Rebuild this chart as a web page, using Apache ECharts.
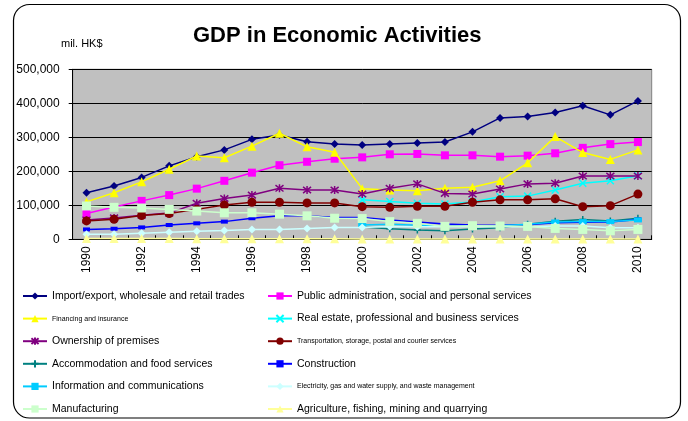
<!DOCTYPE html>
<html><head><meta charset="utf-8">
<script src="https://cdn.jsdelivr.net/npm/echarts@6/dist/echarts.min.js"></script>
<style>html,body{margin:0;padding:0;background:#fff}#c{width:688px;height:421px}</style>
</head><body><div id="c"></div>
<script>
var years = ['1990','1991','1992','1993','1994','1995','1996','1997','1998','1999','2000','2001','2002','2003','2004','2005','2006','2007','2008','2009','2010'];
var yTicks = [0, 100000, 200000, 300000, 400000, 500000];
var importExport = [137000,157000,182000,216000,243000,263000,294000,307000,287000,280000,277000,280000,283000,286000,316000,357000,361000,373000,393000,366000,407000];
var publicAdmin = [76000,95000,113000,130000,149000,172000,196000,218000,228000,237000,241000,250000,251000,247000,247000,243000,246000,253000,269000,280000,286000];
var financing = [110000,137000,169000,206000,245000,240000,274000,312000,272000,256000,149000,145000,143000,150000,153000,172000,225000,302000,255000,235000,263000];
var realEstate = [null,null,null,null,null,null,null,null,null,null,116000,111000,106000,104000,110000,125000,127000,145000,165000,172000,187000];
var ownership = [57000,63000,71000,77000,106000,120000,130000,150000,145000,145000,133000,150000,163000,135000,133000,148000,163000,165000,186000,186000,186000];
var transport = [54000,59000,70000,76000,88000,101000,109000,109000,107000,107000,96000,94000,97000,97000,109000,116000,116000,119000,96000,99000,133000];
var accommodation = [null,null,null,null,null,null,null,null,null,null,36000,31000,27000,25000,30000,34000,44000,53000,58000,54000,62000];
var construction = [29000,31000,35000,42000,47000,52000,62000,69000,69000,64000,64000,57000,51000,45000,42000,41000,43000,49000,50000,51000,58000];
var infoComm = [null,null,null,null,null,null,null,null,null,null,42000,44000,41000,38000,39000,40000,44000,51000,52000,52000,57000];
var electricity = [15000,15000,18000,21000,24000,26000,29000,29000,32000,35000,35000,38000,37000,37000,37000,38000,37000,39000,39000,34000,34000];
var manufacturing = [98000,94000,92000,88000,83000,78000,78000,74000,69000,62000,61000,52000,47000,38000,40000,39000,38000,32000,29000,25000,29000];
var agriculture = [2300,2300,2200,2000,1800,1700,1600,1500,1400,1300,1200,1100,1000,1000,1000,1000,1000,1000,1000,1000,1000];

var names = [
  'Import/export, wholesale and retail trades',
  'Public administration, social and personal services',
  'Financing and insurance',
  'Real estate, professional and business services',
  'Ownership of premises',
  'Transportation, storage, postal and courier services',
  'Accommodation and food services',
  'Construction',
  'Information and communications',
  'Electricity, gas and water supply, and waste management',
  'Manufacturing',
  'Agriculture, fishing, mining and quarrying'
];
var FONT = "'Liberation Sans',Arial,sans-serif";
var P_X = 'path://M0,0L10,10M10,0L0,10';
var P_PLUS = 'path://M5,0L5,10M0,5L10,5';
var P_STAR = 'path://M5,0L5,10M1,1L9,9M9,1L1,9';

function mk(i, data, color, symbol, size, strokeSym) {
  var s = {
    name: names[i], type: 'line', data: data, symbol: symbol, symbolSize: size,
    lineStyle: {color: color, width: 1.5},
    itemStyle: {color: color},
    showAllSymbol: true, animation: false, connectNulls: false, z: 2 + i * 0.01
  };
  if (strokeSym) { s.itemStyle = {color: 'rgba(0,0,0,0)', borderColor: color, borderWidth: 1.5}; }
  return s;
}

var series = [
  mk(0, importExport, '#000080', 'diamond', 8),
  mk(1, publicAdmin, '#FF00FF', 'rect', 8),
  mk(2, financing, '#FFFF00', 'triangle', 9),
  mk(3, realEstate, '#00FFFF', P_X, 7, true),
  mk(4, ownership, '#800080', P_STAR, 8, true),
  mk(5, transport, '#800000', 'circle', 9),
  mk(6, accommodation, '#008080', P_PLUS, 7, true),
  mk(7, construction, '#0000FF', 'rect', [7, 4]),
  mk(8, infoComm, '#00CCFF', 'rect', [8, 5]),
  mk(9, electricity, '#CCFFFF', 'diamond', 8),
  mk(10, manufacturing, '#CCFFCC', 'rect', 9),
  mk(11, agriculture, '#FFFF99', 'triangle', 9)
];

function legendItems(idx) {
  return idx.map(function (i) {
    var small = (i === 2 || i === 5 || i === 9);
    return {name: names[i], textStyle: {fontSize: small ? 7 : 10.5, lineHeight: 14}};
  });
}
var legendCommon = {
  orient: 'vertical', itemWidth: 24, itemHeight: 9, itemGap: 8.6, padding: 0,
  textStyle: {fontFamily: FONT, fontSize: 10.5, color: '#000', lineHeight: 14},
  selectedMode: false
};

var chart = echarts.init(document.getElementById('c'), null, {renderer: 'canvas'});
chart.setOption({
  backgroundColor: '#fff',
  animation: false,
  title: {
    text: 'GDP in Economic Activities', left: 188, top: 20,
    textStyle: {fontFamily: FONT, fontSize: 22, fontWeight: 'bold', color: '#000'}
  },
  graphic: [
    {type: 'rect', shape: {x: 13.5, y: 4.5, width: 667, height: 413.5, r: 16}, style: {fill: 'none', stroke: '#000', lineWidth: 1.2}, z: 0},
    {type: 'text', left: 61, top: 38, style: {text: 'mil. HK$', font: "11px 'Liberation Sans',Arial,sans-serif", fill: '#000'}}
  ],
  legend: [
    Object.assign({left: 22, top: 289, data: legendItems([0, 2, 4, 6, 8, 10])}, legendCommon),
    Object.assign({left: 267, top: 289, data: legendItems([1, 3, 5, 7, 9, 11])}, legendCommon)
  ],
  grid: {left: 72.7, right: 36.3, top: 69.3, bottom: 181.7, show: true, backgroundColor: '#C0C0C0', borderColor: '#808080', borderWidth: 1},
  xAxis: {
    type: 'category', data: years, boundaryGap: true,
    axisLine: {lineStyle: {color: '#000', width: 1}},
    axisTick: {show: true, inside: true, length: 4, interval: 0, lineStyle: {color: '#000'}},
    axisLabel: {rotate: 90, interval: 1, margin: 7, fontFamily: FONT, fontSize: 12, color: '#000'}
  },
  yAxis: {
    type: 'value', min: yTicks[0], max: yTicks[yTicks.length - 1], interval: yTicks[1] - yTicks[0],
    axisLine: {show: true, lineStyle: {color: '#000', width: 1}},
    axisTick: {show: true, length: 4, lineStyle: {color: '#000'}},
    splitLine: {lineStyle: {color: '#000', width: 1}},
    axisLabel: {margin: 13, fontFamily: FONT, fontSize: 12, color: '#000',
      formatter: function (v) { return v.toLocaleString('en-US'); }}
  },
  series: series
});
</script>
</body></html>
